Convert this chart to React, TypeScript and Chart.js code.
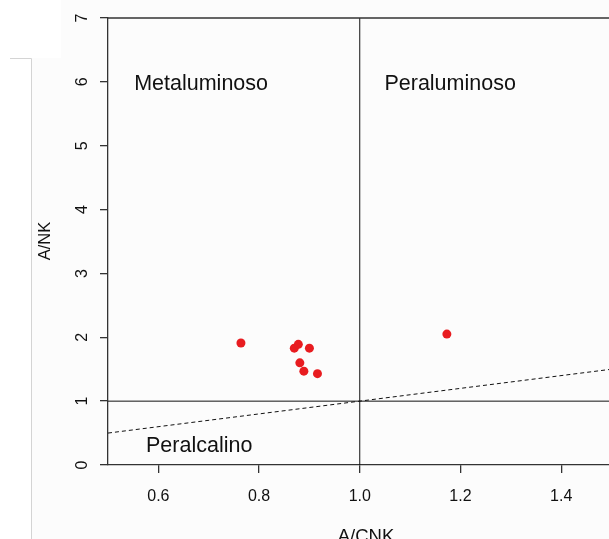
import { useEffect, useRef } from "react";
import { Chart, registerables } from "chart.js";
Chart.register(...registerables);

// Sample data: A/CNK (x) vs A/NK (y)
const acnk = [0.764, 0.87, 0.878, 0.9, 0.881, 0.889, 0.916, 1.173];
const ank = [1.91, 1.83, 1.89, 1.83, 1.6, 1.47, 1.43, 2.05];

// Axis ticks
const xTicks = [0.6, 0.8, 1.0, 1.2, 1.4];
const xTickLabels = ["0.6", "0.8", "1.0", "1.2", "1.4"];
const yTicks = [0, 1, 2, 3, 4, 5, 6, 7];
const yTickLabels = ["0", "1", "2", "3", "4", "5", "6", "7"];

// Field boundaries
const diagX = [0.5, 1.6];
const diagY = [0.5, 1.6];
const hLineX = [0.5, 1.6];
const hLineY = [1, 1];
const vLineX = [1, 1];
const vLineY = [0, 7];

// Region names (anchored in data coordinates)
const regionNames = ["Metaluminoso", "Peraluminoso", "Peralcalino"];
const regionX = [0.552, 1.049, 0.5755];
const regionY = [5.88, 5.88, 0.21];

const xTitle = "A/CNK";
const yTitle = "A/NK";

export default function App() {
  const ref = useRef<HTMLCanvasElement | null>(null);

  useEffect(() => {
    if (!ref.current) return;
    const font = '"Liberation Sans", Arial, Helvetica, sans-serif';
    const axisColor = "#333";

    const decor = {
      id: "decor",
      beforeDraw(chart: any) {
        const ctx = chart.ctx;
        ctx.save();
        ctx.fillStyle = "#ffffff";
        ctx.fillRect(0, 0, chart.width, chart.height);
        ctx.fillStyle = "#fcfcfc";
        ctx.fillRect(61, 0, chart.width - 61, 58);
        ctx.fillRect(31, 58, chart.width - 31, chart.height - 58);
        ctx.strokeStyle = "#d4d4d4";
        ctx.lineWidth = 1;
        ctx.beginPath();
        ctx.moveTo(10, 58.5);
        ctx.lineTo(31.5, 58.5);
        ctx.lineTo(31.5, chart.height);
        ctx.stroke();
        ctx.restore();
      },
      afterDraw(chart: any) {
        const ctx = chart.ctx;
        const xs = chart.scales.x;
        const ys = chart.scales.y;
        const area = chart.chartArea;
        ctx.save();
        // top border of the box
        ctx.strokeStyle = axisColor;
        ctx.lineWidth = 1.3;
        ctx.beginPath();
        ctx.moveTo(area.left, area.top);
        ctx.lineTo(chart.width, area.top);
        ctx.stroke();

        ctx.fillStyle = "#111";
        // x tick labels
        ctx.font = `16px ${font}`;
        ctx.textAlign = "center";
        ctx.textBaseline = "middle";
        xTicks.forEach((v, i) => {
          ctx.fillText(xTickLabels[i], xs.getPixelForValue(v), 497);
        });
        // y tick labels (rotated)
        yTicks.forEach((v, i) => {
          ctx.save();
          ctx.translate(83, ys.getPixelForValue(v));
          ctx.rotate(-Math.PI / 2);
          ctx.fillText(yTickLabels[i], 0, 0);
          ctx.restore();
        });
        // axis titles
        ctx.font = `16.5px ${font}`;
        ctx.save();
        ctx.translate(45.5, 241);
        ctx.rotate(-Math.PI / 2);
        ctx.fillText(yTitle, 0, 0);
        ctx.restore();
        ctx.font = `18.5px ${font}`;
        ctx.textBaseline = "alphabetic";
        ctx.fillText(xTitle, 366, 542);

        // region names
        ctx.font = `21.5px ${font}`;
        ctx.textAlign = "left";
        ctx.textBaseline = "alphabetic";
        regionNames.forEach((n, i) => {
          ctx.fillText(n, xs.getPixelForValue(regionX[i]), ys.getPixelForValue(regionY[i]));
        });
        ctx.restore();
      },
    };

    const lineDs = (xa: number[], ya: number[], dash: number[]) => ({
      type: "scatter" as const,
      data: xa.map((x, i) => ({ x, y: ya[i] })),
      showLine: true,
      pointRadius: 0,
      pointHoverRadius: 0,
      borderColor: "#111",
      borderWidth: 1,
      borderDash: dash,
    });

    const chart = new Chart(ref.current, {
      type: "scatter",
      data: {
        datasets: [
          {
            data: acnk.map((x, i) => ({ x, y: ank[i] })),
            pointRadius: 4.5,
            pointBorderWidth: 0,
            pointBackgroundColor: "rgb(232,28,32)",
            borderColor: "rgb(232,28,32)",
            showLine: false,
          },
          lineDs(vLineX, vLineY, []),
          lineDs(hLineX, hLineY, []),
          lineDs(diagX, diagY, [4, 3]),
        ] as any,
      },
      options: {
        responsive: false,
        animation: false,
        events: [],
        layout: { autoPadding: false, padding: { top: 18, right: 0, left: 0, bottom: 0 } },
        plugins: { legend: { display: false }, tooltip: { enabled: false } },
        scales: {
          x: {
            type: "linear",
            min: 0.5,
            max: 1.495,
            afterBuildTicks: (s: any) => {
              s.ticks = xTicks.map((v) => ({ value: v }));
            },
            afterFit: (s: any) => {
              s.height = 74;
            },
            ticks: { display: false },
            grid: {
              drawOnChartArea: false,
              drawTicks: true,
              tickLength: 8,
              color: axisColor,
              lineWidth: 1.3,
            },
            border: { display: true, color: axisColor, width: 1.3 },
          },
          y: {
            type: "linear",
            min: 0,
            max: 7,
            afterBuildTicks: (s: any) => {
              s.ticks = yTicks.map((v) => ({ value: v }));
            },
            afterFit: (s: any) => {
              s.width = 108;
            },
            ticks: { display: false },
            grid: {
              drawOnChartArea: false,
              drawTicks: true,
              tickLength: 8,
              color: axisColor,
              lineWidth: 1.3,
            },
            border: { display: true, color: axisColor, width: 1.3 },
          },
        },
      },
      plugins: [decor],
    });
    return () => chart.destroy();
  }, []);

  return (
    <div style={{ position: "fixed", left: 0, top: 0, width: 609, height: 539, overflow: "hidden" }}>
      <canvas ref={ref} width={609} height={539} style={{ display: "block" }} />
    </div>
  );
}
